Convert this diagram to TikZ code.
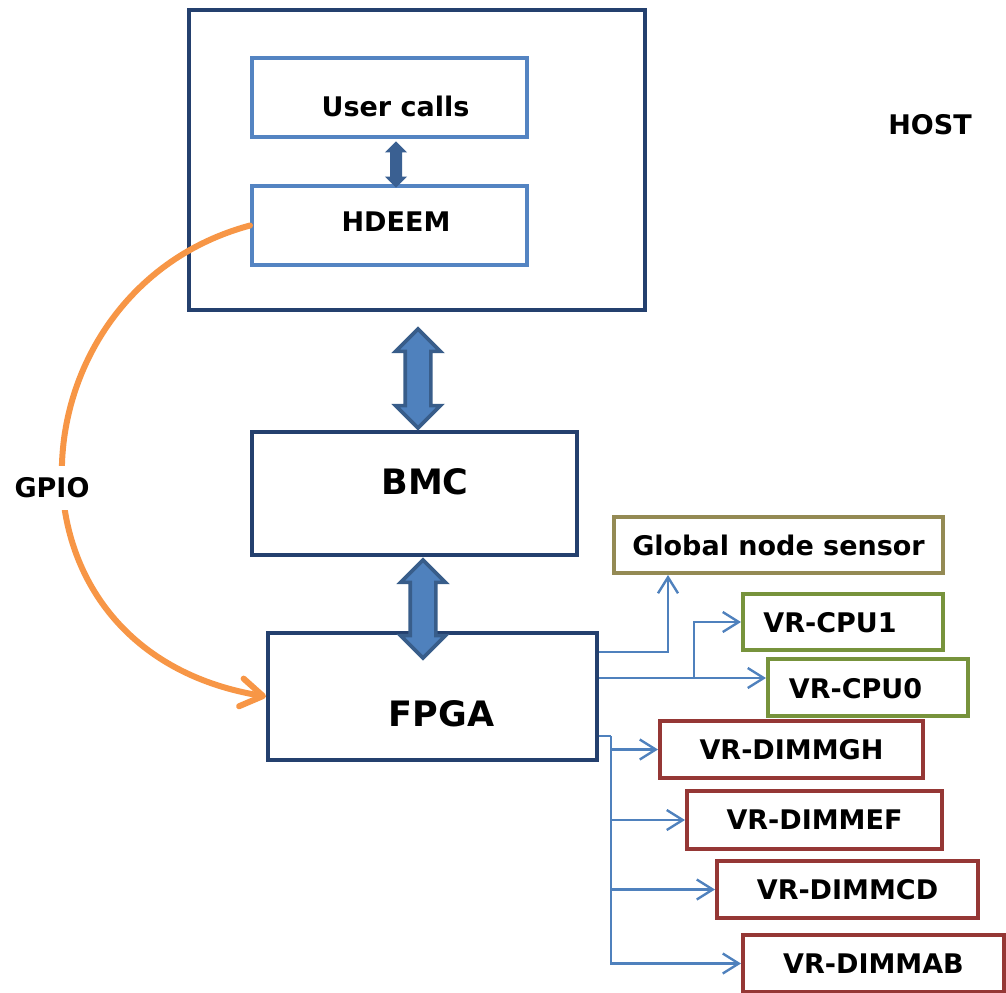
\documentclass[tikz,border=0pt]{standalone}
\usepackage{fontspec}
\setmainfont{DejaVu Sans}
\usepackage{tikz}
\usetikzlibrary{shapes.arrows,arrows.meta}

\definecolor{hostblue}{RGB}{36,64,110}
\definecolor{callblue}{RGB}{84,132,194}
\definecolor{arrowfill}{RGB}{79,129,189}
\definecolor{arrowedge}{RGB}{56,93,138}
\definecolor{calldark}{RGB}{58,96,146}
\definecolor{gpioorange}{RGB}{247,150,70}
\definecolor{sensorolive}{RGB}{148,138,84}
\definecolor{cpugreen}{RGB}{119,147,60}
\definecolor{dimmred}{RGB}{149,55,53}

\tikzset{
  box/.style={draw,line width=2pt,fill=white,inner sep=0pt,
    font=\bfseries\fontsize{13.5}{16}\selectfont},
  bigbox/.style={box,draw=hostblue},
  boxtext/.style={inner sep=0pt,font=\bfseries\fontsize{13.5}{16}\selectfont},
  bigtext/.style={inner sep=0pt,font=\bfseries\fontsize{17.5}{20}\selectfont},
  fatarrow/.style={double arrow,rotate=90,draw=arrowedge,fill=arrowfill,
    line width=1.8pt,inner sep=0pt,text height=5.5pt,text depth=5.5pt,double arrow head extend=4.8pt},
  link/.style={draw=arrowfill,line width=1.2pt,-{Straight Barb[length=8pt,width=10pt]}},
}

\begin{document}
\begin{tikzpicture}[x=0.5pt,y=-0.5pt]
\useasboundingbox (0,0) rectangle (1006,992);

 \draw (417,160) node[bigbox,minimum width=228pt,minimum height=150pt] (host) {};
 \draw (389.5,97.5) node[box,draw=callblue,minimum width=137.5pt,minimum height=39.5pt] (calls) {};
 \draw (395.5,106) node[boxtext] (callstext) {User calls};
 \draw (389.5,225.5) node[box,draw=callblue,minimum width=137.5pt,minimum height=39.5pt] (hdeem) {};
 \draw (396,222) node[boxtext] (hdeemtext) {HDEEM};
 \draw (930,125) node[boxtext] (hostlabel) {HOST};

 \draw (414.5,493.5) node[bigbox,minimum width=162.5pt,minimum height=61.5pt] (bmc) {};
 \draw (425,481.5) node[bigtext] (bmctext) {BMC};
 \draw (432.5,696.5) node[bigbox,minimum width=164.5pt,minimum height=63.5pt] (fpga) {};
 \draw (441.5,714) node[bigtext] (fpgatext) {FPGA};

 \draw (778.5,545) node[box,draw=sensorolive,minimum width=164.5pt,minimum height=28pt] (sensor) {Global node sensor};
 \draw (843,622) node[box,draw=cpugreen,minimum width=100pt,minimum height=28pt] (cpu1) {};
 \draw (830,622.5) node[boxtext] (cpu1text) {VR-CPU1};
 \draw (868,687.5) node[box,draw=cpugreen,minimum width=100pt,minimum height=28.5pt] (cpu0) {};
 \draw (855.5,689) node[boxtext] (cpu0text) {VR-CPU0};
 \draw (791.5,749.5) node[box,draw=dimmred,minimum width=131.5pt,minimum height=28.5pt] (dimmgh) {VR-DIMMGH};
 \draw (814.5,820) node[box,draw=dimmred,minimum width=127.5pt,minimum height=29pt] (dimmef) {VR-DIMMEF};
 \draw (847.5,889.5) node[box,draw=dimmred,minimum width=130.5pt,minimum height=28.5pt] (dimmcd) {VR-DIMMCD};
 \draw (873.5,963.5) node[box,draw=dimmred,minimum width=130.5pt,minimum height=28.5pt] (dimmab) {VR-DIMMAB};

% fat double arrows
 \draw (396,164.5) node[fatarrow,draw=calldark,fill=calldark,line width=0.5pt,text height=2.5pt,text depth=2.5pt,
   double arrow head extend=2.2pt,minimum height=22.5pt] (callarrow) {};
 \draw (418,378.5) node[fatarrow,minimum height=49.5pt] (hostarrow) {};
 \draw (423,609) node[fatarrow,minimum height=49pt] (bmcarrow) {};

% GPIO line
 \draw[gpioorange,line width=3pt,line cap=round,-{Straight Barb[length=11pt,width=14pt,round]}]
   (hdeem.west) .. controls (10,290) and (-15,650) .. (fpga.west);
 \draw (52,488) node[boxtext,fill=white,inner xsep=1pt,inner ysep=6pt] (gpio) {GPIO};

% sensor lines
 \coordinate (cpujoint) at (694,678);
 \coordinate (dimmjoint) at (611,736);
 \draw[link] (fpga.east |- 0,652) -| (668,0 |- sensor.south);
 \draw[link] (fpga.east |- 0,678) -- (cpu0.west |- 0,678);
 \draw[link] (cpujoint) |- (cpu1.west);
 \draw[draw=arrowfill,line width=1.2pt] (fpga.east |- dimmjoint) -- (dimmjoint);
 \draw[link] (dimmjoint) |- (dimmgh.west);
 \draw[link] (dimmjoint) |- (dimmef.west);
 \draw[link] (dimmjoint) |- (dimmcd.west);
 \draw[link] (dimmjoint) |- (dimmab.west);
\end{tikzpicture}
\end{document}
